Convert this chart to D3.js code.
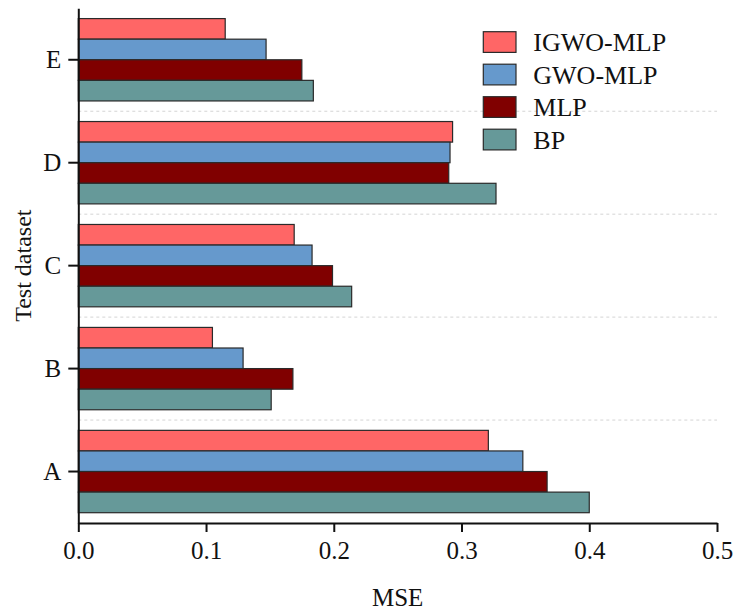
<!DOCTYPE html>
<html>
<head>
<meta charset="utf-8">
<script src="https://cdn.jsdelivr.net/npm/d3@7"></script>
<style>
  html, body { margin: 0; padding: 0; background: #fff; }
  svg { display: block; font-family: "Liberation Serif", "Times New Roman", serif; }
</style>
</head>
<body>
<svg id="chart" width="736" height="610"></svg>
<script>
// Test datasets, listed top to bottom
const categories = ["E", "D", "C", "B", "A"];
// Models, drawn top to bottom inside each dataset group
const seriesNames = ["IGWO-MLP", "GWO-MLP", "MLP", "BP"];
const seriesColors = ["#FF6666", "#6699CC", "#800000", "#669999"];

// MSE per dataset (order follows `categories`)
const igwoMlp = [0.115, 0.293, 0.169, 0.105, 0.321];
const gwoMlp  = [0.147, 0.291, 0.183, 0.129, 0.348];
const mlp     = [0.175, 0.290, 0.199, 0.168, 0.367];
const bp      = [0.184, 0.327, 0.214, 0.151, 0.400];

const xTicks = [0.0, 0.1, 0.2, 0.3, 0.4, 0.5];

const seriesValues = [igwoMlp, gwoMlp, mlp, bp];

const svg = d3.select("#chart");

const plotLeft = 78.3, plotRight = 717, plotTop = 8.3, plotBottom = 523;

const x = d3.scaleLinear().domain([0, 0.5]).range([plotLeft, plotRight]);
const y = d3.scaleBand().domain(categories).range([plotTop, plotBottom])
  .paddingInner(0.2).paddingOuter(0.1);
const ySub = d3.scaleBand().domain(seriesNames).range([0, y.bandwidth()]);

// dashed separators between dataset groups
const gaps = categories.slice(0, -1).map(c => y(c) + y.bandwidth() + y.step() * y.paddingInner() / 2);
svg.append("g").selectAll("line").data(gaps).join("line")
  .attr("x1", plotLeft).attr("x2", plotRight)
  .attr("y1", d => d).attr("y2", d => d)
  .attr("stroke", "#d4d4d4").attr("stroke-width", 1)
  .attr("stroke-dasharray", "3,3");

// bars
const groups = svg.append("g").selectAll("g").data(categories).join("g")
  .attr("transform", c => `translate(0,${y(c)})`);

groups.selectAll("rect")
  .data((c, i) => seriesNames.map((s, k) => ({ s, k, v: seriesValues[k][i] })))
  .join("rect")
  .attr("x", x(0))
  .attr("y", d => ySub(d.s))
  .attr("width", d => x(d.v) - x(0))
  .attr("height", ySub.bandwidth())
  .attr("fill", d => seriesColors[d.k])
  .attr("stroke", "#2a2a2a")
  .attr("stroke-width", 1.2);

// x axis
const xAxis = svg.append("g").attr("transform", `translate(0,${plotBottom})`)
  .call(d3.axisBottom(x).tickValues(xTicks).tickFormat(d3.format(".1f"))
    .tickSize(9).tickSizeOuter(0).tickPadding(9));
xAxis.select(".domain").attr("stroke", "#111").attr("stroke-width", 2);
xAxis.selectAll(".tick line").attr("stroke", "#111").attr("stroke-width", 2);
xAxis.selectAll(".tick text").attr("font-size", 25).attr("fill", "#111")
  .attr("font-family", "Liberation Serif, Times New Roman, serif");

// y axis
const yAxis = svg.append("g").attr("transform", `translate(${plotLeft},0)`)
  .call(d3.axisLeft(y).tickSize(10).tickSizeOuter(0).tickPadding(7));
yAxis.select(".domain").attr("stroke", "#111").attr("stroke-width", 2);
yAxis.selectAll(".tick line").attr("stroke", "#111").attr("stroke-width", 2);
yAxis.selectAll(".tick text").attr("font-size", 25).attr("fill", "#111")
  .attr("font-family", "Liberation Serif, Times New Roman, serif");

// axis titles
svg.append("text")
  .attr("x", (plotLeft + plotRight) / 2).attr("y", 606)
  .attr("text-anchor", "middle").attr("font-size", 25).attr("fill", "#111")
  .text("MSE");

svg.append("text")
  .attr("transform", `translate(31,${(plotTop + plotBottom) / 2}) rotate(-90)`)
  .attr("text-anchor", "middle").attr("font-size", 24).attr("fill", "#111")
  .text("Test dataset");

// legend
const legend = svg.append("g").attr("transform", "translate(483.3,31.7)");
const items = legend.selectAll("g").data(seriesNames).join("g")
  .attr("transform", (d, i) => `translate(0,${i * 32.5})`);
items.append("rect")
  .attr("width", 32.7).attr("height", 20.7)
  .attr("fill", (d, i) => seriesColors[i])
  .attr("stroke", "#2a2a2a").attr("stroke-width", 1.2);
items.append("text")
  .attr("x", 50).attr("y", 10.35).attr("dy", "0.35em")
  .attr("font-size", 26).attr("fill", "#111")
  .text(d => d);
</script>
</body>
</html>
